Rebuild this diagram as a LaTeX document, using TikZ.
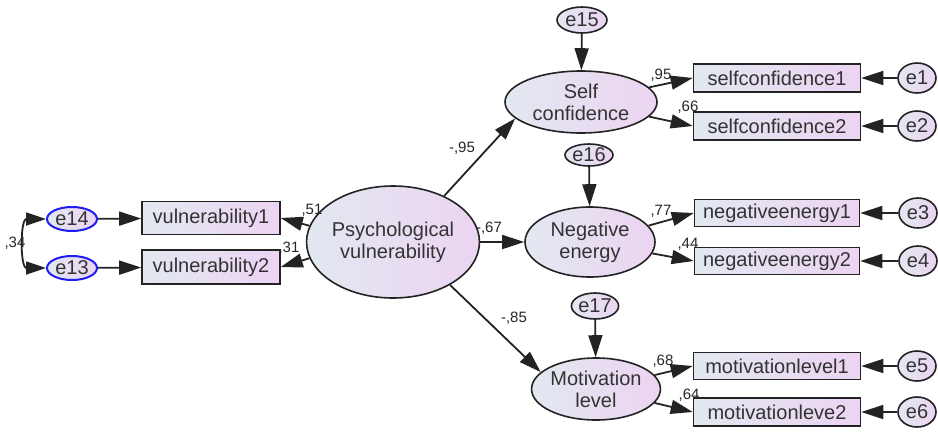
\documentclass[tikz,border=0pt]{standalone}
\usepackage{fontspec}
\setmainfont{Liberation Sans}
\usetikzlibrary{arrows.meta, shapes.geometric}
\definecolor{shadeleft}{RGB}{226,232,240}
\definecolor{shaderight}{RGB}{236,212,242}
\definecolor{errblue}{RGB}{30,30,240}
\definecolor{linegray}{RGB}{35,35,35}

\begin{document}
\begin{tikzpicture}[x=1pt, y=-1pt,
    latent/.style={ellipse, draw=linegray, line width=1.6pt, left color=shadeleft, right color=shaderight, inner sep=0pt, align=center, text=black!80, font=\fontsize{20}{22}\selectfont},
    observed/.style={rectangle, draw=linegray, line width=1.6pt, left color=shadeleft, right color=shaderight, inner sep=0pt, text=black!80, font=\fontsize{20}{22}\selectfont},
    errnode/.style={ellipse, draw=linegray, line width=1.6pt, left color=shadeleft, right color=shaderight, inner sep=0pt, text=black!80, font=\fontsize{20}{22}\selectfont},
    errblue/.style={errnode, draw=errblue, line width=2pt},
    coef/.style={inner sep=0pt, text=black!85, font=\fontsize{15}{17}\selectfont},
    regpath/.style={-{Triangle[length=22pt, width=14pt]}, line width=1.8pt, draw=linegray},
    covar/.style={{Triangle[length=20pt, width=13pt]}-{Triangle[length=20pt, width=13pt]}, line width=1.8pt, draw=linegray}
]
    \useasboundingbox (0,0) rectangle (938,432);

    % latent variables
    \node[latent, minimum width=156pt, minimum height=112pt] (psych) at (393,242) {Psychological\\vulnerability};
    \node[latent, minimum width=152pt, minimum height=62pt] (self) at (581,102) {Self\\confidence};
    \node[latent, minimum width=130pt, minimum height=70pt] (neg) at (590,242) {Negative\\energy};
    \node[latent, minimum width=128pt, minimum height=62pt] (motiv) at (596,389) {Motivation\\level};

    % disturbances
    \node[errnode, minimum width=50pt, minimum height=26pt] (e15) at (582,20) {e15};
    \node[errnode, minimum width=48pt, minimum height=22pt] (e16) at (589,155) {e16};
    \node[errnode, minimum width=40pt, minimum height=26pt] (e17) at (595,306) {e17};

    % indicators
    \node[observed, minimum width=138pt, minimum height=33pt] (vul1) at (211,218) {vulnerability1};
    \node[observed, minimum width=138pt, minimum height=34pt] (vul2) at (211,267) {vulnerability2};
    \node[observed, minimum width=167pt, minimum height=28pt] (sc1) at (777,78) {selfconfidence1};
    \node[observed, minimum width=167pt, minimum height=28pt] (sc2) at (777,126) {selfconfidence2};
    \node[observed, minimum width=165pt, minimum height=27pt] (ne1) at (777,213) {negativeenergy1};
    \node[observed, minimum width=165pt, minimum height=27pt] (ne2) at (777,261) {negativeenergy2};
    \node[observed, minimum width=167pt, minimum height=27pt] (ml1) at (777,366) {motivationlevel1};
    \node[observed, minimum width=167pt, minimum height=28pt] (ml2) at (777,412) {motivationleve2};

    % measurement errors
    \node[errblue, minimum width=50pt, minimum height=24pt] (e14) at (72,219) {e14};
    \node[errblue, minimum width=50pt, minimum height=24pt] (e13) at (72,268) {e13};
    \node[errnode, minimum width=38pt, minimum height=30pt] (e1) at (917,78) {e1};
    \node[errnode, minimum width=38pt, minimum height=30pt] (e2) at (917,126) {e2};
    \node[errnode, minimum width=38pt, minimum height=30pt] (e3) at (918,213) {e3};
    \node[errnode, minimum width=38pt, minimum height=30pt] (e4) at (918,261) {e4};
    \node[errnode, minimum width=38pt, minimum height=30pt] (e5) at (917,366) {e5};
    \node[errnode, minimum width=38pt, minimum height=30pt] (e6) at (917,412) {e6};

    % structural paths
    \draw[regpath] (psych.42) -- (self.194);
    \draw[regpath] (psych) -- (neg);
    \draw[regpath] (psych.-37) -- (motiv.163);
    \draw[regpath] (psych.169) -- (vul1.east);
    \draw[regpath] (psych.191) -- (vul2.east);

    % loadings
    \draw[regpath] (self) -- (sc1.west);
    \draw[regpath] (self) -- (sc2.west);
    \draw[regpath] (neg) -- (ne1.west);
    \draw[regpath] (neg) -- (ne2.west);
    \draw[regpath] (motiv) -- (ml1.west);
    \draw[regpath] (motiv) -- (ml2.west);

    % error terms
    \draw[regpath] (e15) -- (self);
    \draw[regpath] (e16) -- (neg);
    \draw[regpath] (e17) -- (motiv);
    \draw[regpath] (e14) -- (vul1);
    \draw[regpath] (e13) -- (vul2);
    \foreach \e/\ind in {e1/sc1, e2/sc2, e3/ne1, e4/ne2, e5/ml1, e6/ml2}
        \draw[regpath] (\e) -- (\ind);

    % covariance
    \draw[covar] (e14.west) .. controls (20,219) and (20,268) .. (e13.west);

    % estimates
    \node[coef] (c34) at (15,243) {,34};
    \node[coef] (c51) at (312,210) {,51};
    \node[coef] (c31) at (289,248) {,31};
    \node[coef] (c67) at (489,228) {-,67};
    \node[coef] (c95a) at (462,148) {-,95};
    \node[coef] (c85) at (514,318) {-,85};
    \node[coef] (c95b) at (661,75) {,95};
    \node[coef] (c66) at (688,107) {,66};
    \node[coef] (c77) at (661,211) {,77};
    \node[coef] (c44) at (688,244) {,44};
    \node[coef] (c68) at (663,361) {,68};
    \node[coef] (c64) at (689,395) {,64};

\end{tikzpicture}
\end{document}
